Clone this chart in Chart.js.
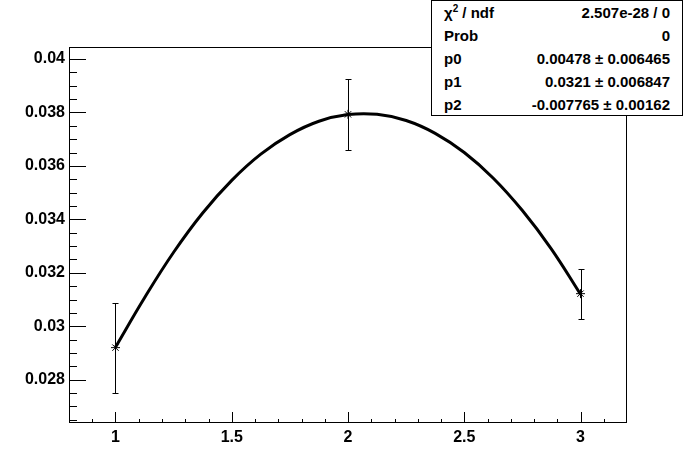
<!DOCTYPE html>
<html>
<head>
<meta charset="utf-8">
<script src="https://cdn.jsdelivr.net/npm/chart.js@4"></script>
<style>
  html, body { margin: 0; padding: 0; background: #fff; }
  #wrapper { position: relative; width: 696px; height: 472px; }
  #stats {
    position: absolute; left: 431px; top: 0px; width: 250px; height: 114px;
    border: 1px solid #000; background: #fff;
    font-family: "Liberation Sans", Arial, sans-serif; font-weight: bold; font-size: 15px;
  }
  #stats div { height: 23px; line-height: 24px; display: flex; justify-content: space-between; padding: 0 12px 0 12px; }
  sup { font-size: 10px; line-height: 0; }
</style>
</head>
<body>
<div id="wrapper">
  <canvas id="myChart"></canvas>
  <div id="stats">
    <div><span>&chi;<sup>2</sup> / ndf</span><span>2.507e-28 / 0</span></div>
    <div><span>Prob</span><span>0</span></div>
    <div><span>p0</span><span>0.00478 &plusmn; 0.006465</span></div>
    <div><span>p1</span><span>0.0321 &plusmn; 0.006847</span></div>
    <div><span>p2</span><span>-0.007765 &plusmn; 0.00162</span></div>
  </div>
</div>
<script>
// measured points with errors
const xPoints = [1, 2, 3];
const yPoints = [0.02920, 0.03793, 0.03122];
const yErrLow = [0.00170, 0.00134, 0.00094];
const yErrHigh = [0.00166, 0.00133, 0.00093];

// fit curve
const xCurve = [1, 1.125, 1.25, 1.375, 1.5, 1.625, 1.75, 1.875, 2, 2.125, 2.25, 2.375, 2.5, 2.625, 2.75, 2.875, 3];
const yCurve = [0.02922, 0.03107, 0.03277, 0.03424, 0.03546, 0.03644, 0.03717, 0.03767, 0.03792,
  0.03793, 0.03770, 0.03722, 0.03650, 0.03554, 0.03433, 0.03289, 0.03120];

// tick labels
const xTicks = [1, 1.5, 2, 2.5, 3];
const yTicks = [0.028, 0.03, 0.032, 0.034, 0.036, 0.038, 0.04];
const xMinorStep = 0.1;
const yMinorStep = 0.0005;

const xMin = 0.8, xMax = 3.2;
const yMin = 0.02638, yMax = 0.04045;

const labelFont = { family: "Liberation Sans", weight: "bold", size: 16 };

// frame, inner ticks and error bars
const rootStyle = {
  id: "rootStyle",
  afterDatasetsDraw(chart) {
    const c = chart.ctx;
    const a = chart.chartArea;
    const xs = chart.scales.x;
    const ys = chart.scales.y;
    c.save();
    c.strokeStyle = "#000";
    c.lineWidth = 1;
    c.beginPath();
    // y ticks
    for (let v = 0.0265; v < yMax; v += yMinorStep) {
      const py = Math.round(ys.getPixelForValue(v)) + 0.5;
      const major = yTicks.some((t) => Math.abs(t - v) < 1e-7);
      c.moveTo(a.left, py);
      c.lineTo(a.left + (major ? 17 : 8), py);
    }
    // x ticks
    for (let v = 0.9; v < xMax; v += xMinorStep) {
      const px = Math.round(xs.getPixelForValue(v)) + 0.5;
      const major = xTicks.some((t) => Math.abs(t - v) < 1e-7);
      c.moveTo(px, a.bottom);
      c.lineTo(px, a.bottom - (major ? 11 : 4));
    }
    // error bars
    xPoints.forEach((x, i) => {
      const px = Math.round(xs.getPixelForValue(x)) + 0.5;
      const top = Math.round(ys.getPixelForValue(yPoints[i] + yErrHigh[i])) + 0.5;
      const bot = Math.round(ys.getPixelForValue(yPoints[i] - yErrLow[i])) + 0.5;
      c.moveTo(px, top);
      c.lineTo(px, bot);
      c.moveTo(px - 3, top);
      c.lineTo(px + 3, top);
      c.moveTo(px - 3, bot);
      c.lineTo(px + 3, bot);
    });
    c.stroke();
    // frame
    c.strokeRect(Math.round(a.left) + 0.5, Math.round(a.top) + 0.5,
      Math.round(a.right - a.left) - 1, Math.round(a.bottom - a.top) - 1);
    c.restore();
  },
};

const ctx = document.getElementById("myChart").getContext("2d");
let myChart = new Chart(ctx, {
  type: "line",
  data: {
    datasets: [
      {
        data: xCurve.map((x, i) => ({ x: x, y: yCurve[i] })),
        borderColor: "#000",
        borderWidth: 3,
        pointRadius: 0,
        tension: 0.4,
        fill: false,
      },
      {
        data: xPoints.map((x, i) => ({ x: x, y: yPoints[i] })),
        showLine: false,
        pointStyle: "star",
        pointRadius: 4.5,
        borderColor: "#000",
        pointBorderWidth: 1,
      },
    ],
  },
  options: {
    responsive: true,
    maintainAspectRatio: false,
    animation: false,
    layout: { padding: { left: 0, top: 47, right: 69, bottom: 0 } },
    plugins: { legend: { display: false }, tooltip: { enabled: false } },
    scales: {
      x: {
        type: "linear",
        min: xMin,
        max: xMax,
        grid: { display: false, drawTicks: false },
        border: { display: false },
        afterBuildTicks: (s) => { s.ticks = xTicks.map((v) => ({ value: v })); },
        afterFit: (s) => { s.height = 49; },
        ticks: { color: "#000", font: labelFont, padding: 5, maxRotation: 0, autoSkip: false, callback: (v) => String(v) },
      },
      y: {
        type: "linear",
        min: yMin,
        max: yMax,
        grid: { display: false, drawTicks: false },
        border: { display: false },
        afterBuildTicks: (s) => { s.ticks = yTicks.map((v) => ({ value: v })); },
        afterFit: (s) => { s.width = 69; },
        ticks: { color: "#000", font: labelFont, padding: 4, autoSkip: false, callback: (v) => String(v) },
      },
    },
  },
  plugins: [rootStyle],
});
</script>
</body>
</html>
